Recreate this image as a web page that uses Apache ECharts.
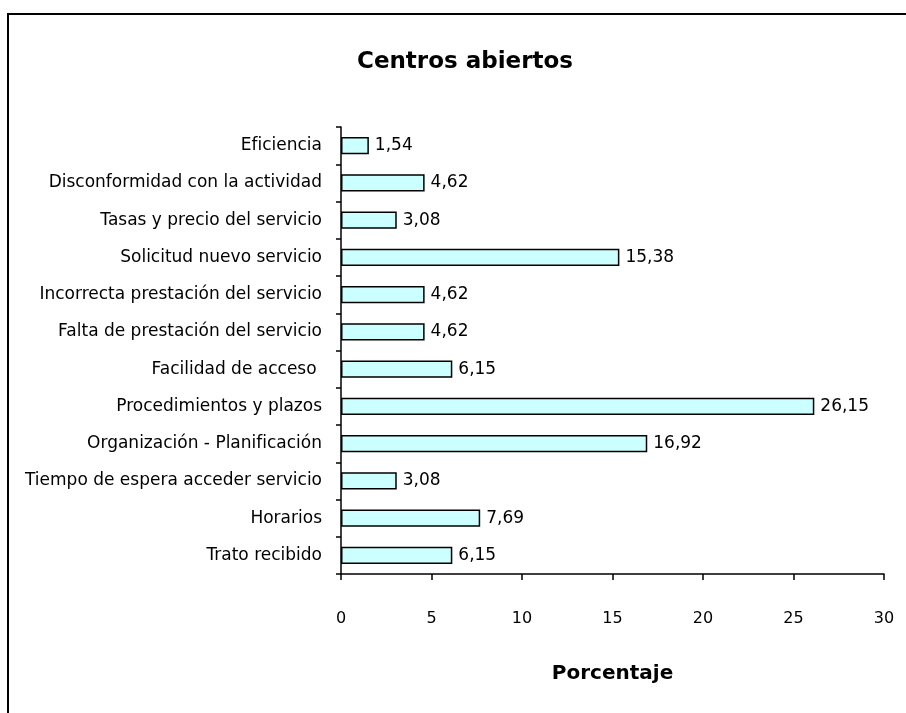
<!DOCTYPE html>
<html lang="es">
<head>
<meta charset="UTF-8">
<title>Centros abiertos</title>
<script src="https://cdn.jsdelivr.net/npm/echarts@6/dist/echarts.min.js"></script>
<style>
  html, body { margin: 0; padding: 0; background: #fff; }
  #chart { width: 906px; height: 713px; }
</style>
</head>
<body>
<div id="chart"></div>
<script>
// categorias (de abajo hacia arriba, como en el eje)
const categorias = [
    'Trato recibido',
    'Horarios',
    'Tiempo de espera acceder servicio',
    'Organización - Planificación',
    'Procedimientos y plazos',
    'Facilidad de acceso ',
    'Falta de prestación del servicio',
    'Incorrecta prestación del servicio',
    'Solicitud nuevo servicio',
    'Tasas y precio del servicio',
    'Disconformidad con la actividad',
    'Eficiencia'
];
const porcentajes = [6.15, 7.69, 3.08, 16.92, 26.15, 6.15, 4.62, 4.62, 15.38, 3.08, 4.62, 1.54];
const ticksX = [0, 5, 10, 15, 20, 25, 30];

const fuente = '"DejaVu Sans", "Noto Sans", sans-serif';
const chart = echarts.init(document.getElementById('chart'));

chart.setOption({
    animation: false,
    title: {
        text: 'Centros abiertos',
        left: 460,
        top: 46,
        textAlign: 'center',
        textStyle: { fontFamily: fuente, fontSize: 23, fontWeight: 'bold', color: '#000' }
    },
    graphic: [{
        type: 'rect',
        shape: { x: 8, y: 14, width: 1200, height: 1200 },
        style: { fill: 'none', stroke: '#000', lineWidth: 2 }
    }],
    grid: { left: 341, right: 22, top: 127, bottom: 139 },
    xAxis: {
        type: 'value',
        min: ticksX[0],
        max: ticksX[ticksX.length - 1],
        interval: 5,
        name: 'Porcentaje',
        nameLocation: 'middle',
        nameGap: 90,
        nameTextStyle: { fontFamily: fuente, fontSize: 20, fontWeight: 'bold', color: '#000' },
        axisLine: { show: true, lineStyle: { color: '#000', width: 1.5 } },
        axisTick: { show: true, length: 6, lineStyle: { color: '#000', width: 1.5 } },
        axisLabel: { fontFamily: fuente, fontSize: 16, color: '#000', margin: 37 },
        splitLine: { show: false }
    },
    yAxis: {
        type: 'category',
        data: categorias,
        axisLine: { show: true, lineStyle: { color: '#000', width: 1.5 } },
        axisTick: { show: true, length: 5, lineStyle: { color: '#000', width: 1.5 } },
        axisLabel: { fontFamily: fuente, fontSize: 17, color: '#000', margin: 19 }
    },
    series: [{
        type: 'bar',
        data: porcentajes,
        barCategoryGap: '54%',
        itemStyle: { color: '#ccffff', borderColor: '#000', borderWidth: 1.5 },
        label: {
            show: true,
            position: 'right',
            distance: 6,
            fontFamily: fuente,
            fontSize: 17,
            color: '#000',
            formatter: p => p.value.toFixed(2).replace('.', ',')
        }
    }]
});
</script>
</body>
</html>
